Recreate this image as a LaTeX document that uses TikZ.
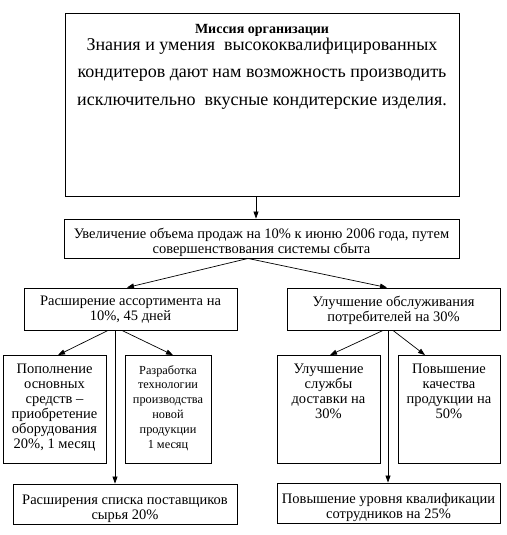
\documentclass[tikz,border=0pt]{standalone}
\usepackage{fontspec}
\setmainfont{Liberation Serif}
\usetikzlibrary{arrows.meta}
\tikzset{
  box/.style={draw, line width=0.9pt, inner sep=0pt, rectangle},
  txt/.style={anchor=north, align=center, inner sep=0pt, font=\fontsize{14.5}{15}\selectfont},
  arr/.style={draw, line width=0.7pt, -{Triangle[length=7pt,width=5pt]}}
}
\begin{document}
\begin{tikzpicture}[x=1pt,y=-1pt]
\useasboundingbox (0,0) rectangle (506,535);
% boxes
\node[box, minimum width=394pt, minimum height=183pt] (mission) at (262,104.5) {};
\node[box, minimum width=395pt, minimum height=39pt] (goal) at (261.5,238.5) {};
\node[box, minimum width=213pt, minimum height=42pt] (L) at (130.5,309) {};
\node[box, minimum width=213pt, minimum height=42pt] (R) at (393.5,309) {};
\node[box, minimum width=103pt, minimum height=108pt] (L1) at (54.5,409.5) {};
\node[box, minimum width=86pt, minimum height=108pt] (L2) at (168,409.5) {};
\node[box, minimum width=224pt, minimum height=40pt] (L3) at (125,504) {};
\node[box, minimum width=103pt, minimum height=108pt] (R1) at (328.5,409.5) {};
\node[box, minimum width=102pt, minimum height=108pt] (R2) at (449,409.5) {};
\node[box, minimum width=223pt, minimum height=40pt] (R3) at (388.5,503) {};
% texts
\node[anchor=north, inner sep=0pt, font=\fontsize{14}{15}\selectfont\bfseries] (mt) at ([yshift=-12pt]mission.north) {Миссия организации};
\node[anchor=north, align=center, inner sep=0pt, font=\fontsize{18}{27.5}\selectfont] (mx) at ([yshift=-25pt]mission.north) {Знания и умения \ высококвалифицированных\\кондитеров дают нам возможность производить\\исключительно \ вкусные кондитерские изделия.};
\node[txt] (gt) at ([yshift=-9pt]goal.north) {Увеличение объема продаж на 10\% к июню 2006 года, путем\\совершенствования системы сбыта};
\node[txt] (lt) at ([yshift=-8pt]L.north) {Расширение ассортимента на\\10\%, 45 дней};
\node[txt] (rt) at ([yshift=-8pt]R.north) {Улучшение обслуживания\\потребителей на 30\%};
\node[txt] (l1t) at ([yshift=-9pt]L1.north) {Пополнение\\основных\\средств –\\приобретение\\оборудования\\20\%, 1 месяц};
\node[txt, font=\fontsize{12.3}{14.8}\selectfont] (l2t) at ([yshift=-10pt]L2.north) {Разработка\\технологии\\производства\\новой\\продукции\\1 месяц};
\node[txt] (l3t) at ([yshift=-11pt]L3.north) {Расширения списка поставщиков\\сырья 20\%};
\node[txt] (r1t) at ([yshift=-9pt]R1.north) {Улучшение\\службы\\доставки на\\30\%};
\node[txt] (r2t) at ([yshift=-9pt]R2.north) {Повышение\\качества\\продукции на\\50\%};
\node[txt] (r3t) at ([yshift=-11pt]R3.north) {Повышение уровня квалификации\\сотрудников на 25\%};
% helper coordinates
\coordinate (c1) at (256,0);
\coordinate (c2) at (248,0);
\coordinate (c3) at (127,0);
\coordinate (c4) at (387,0);
\coordinate (c5) at (108,0);
\coordinate (c6) at (58,0);
\coordinate (c7) at (122,0);
\coordinate (c8) at (173,0);
\coordinate (c9) at (115,0);
\coordinate (c10) at (383,0);
\coordinate (c11) at (330,0);
\coordinate (c12) at (393,0);
\coordinate (c13) at (425,0);
\coordinate (c14) at (388,0);
% connectors
\draw[arr] (mission.south -| c1) -- (goal.north -| c1);
\draw[arr] (goal.south -| c2) -- (L.north -| c3);
\draw[arr] (goal.south -| c2) -- (R.north -| c4);
\draw[arr] (L.south -| c5) -- (L1.north -| c6);
\draw[arr] (L.south -| c7) -- (L2.north -| c8);
\draw[arr] (L.south -| c9) -- (L3.north -| c9);
\draw[arr] (R.south -| c10) -- (R1.north -| c11);
\draw[arr] (R.south -| c12) -- (R2.north -| c13);
\draw[arr] (R.south -| c14) -- (R3.north -| c14);
\end{tikzpicture}
\end{document}
